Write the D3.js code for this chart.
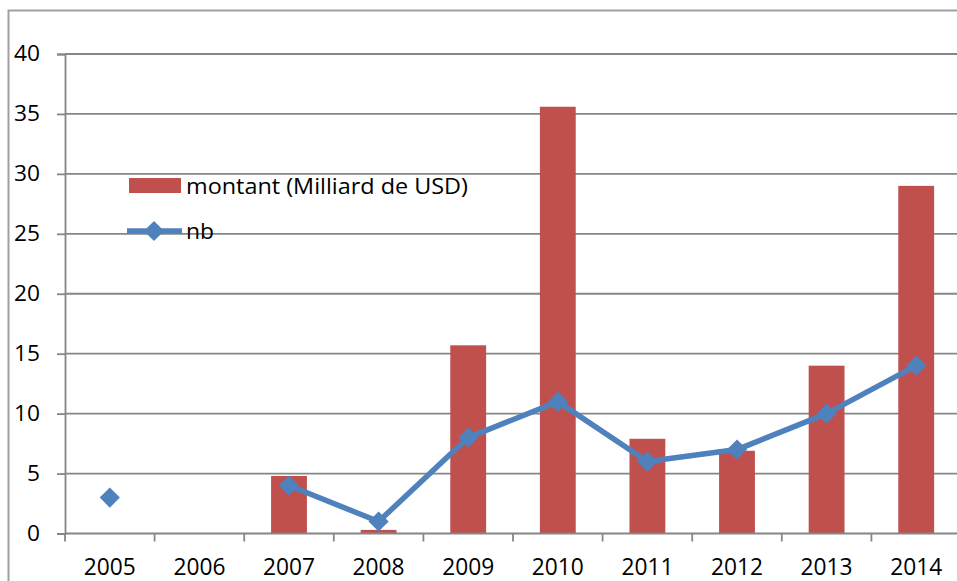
<!DOCTYPE html>
<meta charset="utf-8">
<script src="https://d3js.org/d3.v7.min.js"></script>
<style>
  body { margin: 0; background: #fff; }
  text { font-family: "Open Sans", "Liberation Sans", sans-serif; fill: #000; }
</style>
<div id="chart"></div>
<script>
    // data
    const years = ["2005", "2006", "2007", "2008", "2009", "2010", "2011", "2012", "2013", "2014"];
    const montant = [0, 0, 4.8, 0.3, 15.7, 35.6, 7.9, 6.9, 14, 29];
    const nb = [3, null, 4, 1, 8, 11, 6, 7, 10, 14];
    const yTicks = [0, 5, 10, 15, 20, 25, 30, 35, 40];

    const W = 957, H = 581;
    const svg = d3.select("#chart").append("svg")
        .attr("width", W).attr("height", H);

    // outer frame
    svg.append("rect")
        .attr("x", 8.5).attr("y", 10.5)
        .attr("width", 1000).attr("height", 700)
        .attr("fill", "none").attr("stroke", "#a0a0a0").attr("stroke-width", 2);

    const x = d3.scaleBand().domain(years).range([65, 961]).paddingInner(0.6).paddingOuter(0.3);
    const y = d3.scaleLinear().domain([0, 40]).range([533.5, 54]);

    // gridlines
    svg.append("g").selectAll("line").data(yTicks.filter(d => d > 0)).join("line")
        .attr("x1", 65).attr("x2", 961)
        .attr("y1", d => y(d)).attr("y2", d => y(d))
        .attr("stroke", "#868686").attr("stroke-width", 1.8);

    // bars
    svg.append("g").selectAll("rect").data(years).join("rect")
        .attr("x", d => x(d))
        .attr("width", x.bandwidth())
        .attr("y", (d, i) => y(montant[i]))
        .attr("height", (d, i) => y(0) - y(montant[i]))
        .attr("fill", "#C0504D");

    // y axis
    const yAxis = svg.append("g")
        .attr("transform", "translate(65,0)")
        .call(d3.axisLeft(y).tickValues(yTicks).tickSize(8).tickPadding(17));
    yAxis.select(".domain").attr("stroke", "#868686").attr("stroke-width", 1.8);
    yAxis.selectAll(".tick line").attr("stroke", "#868686").attr("stroke-width", 1.8);
    yAxis.selectAll("text").attr("font-size", 21).attr("fill", "#000")
        .style("font-family", "'Open Sans', sans-serif")
        .attr("textLength", d => String(d).length * 13)
        .attr("lengthAdjust", "spacingAndGlyphs");

    // x axis with ticks at band boundaries
    const xAxis = svg.append("g")
        .attr("transform", `translate(0,${y(0)})`);
    xAxis.append("line").attr("x1", 65).attr("x2", 961)
        .attr("stroke", "#868686").attr("stroke-width", 1.8);
    const step = x.step();
    xAxis.selectAll(".tk").data(d3.range(years.length + 1)).join("line")
        .attr("class", "tk")
        .attr("x1", i => 65 + i * step).attr("x2", i => 65 + i * step)
        .attr("y1", 0).attr("y2", 8)
        .attr("stroke", "#868686").attr("stroke-width", 1.8);
    xAxis.selectAll("text").data(years).join("text")
        .attr("x", d => x(d) + x.bandwidth() / 2)
        .attr("y", 41)
        .attr("text-anchor", "middle")
        .attr("font-size", 23)
        .attr("textLength", 52)
        .attr("lengthAdjust", "spacingAndGlyphs")
        .text(d => d);

    // nb line
    const cx = d => x(d) + x.bandwidth() / 2;
    const pts = years.map((d, i) => ({ year: d, v: nb[i] }));
    const line = d3.line()
        .defined(d => d.v != null)
        .x(d => cx(d.year))
        .y(d => y(d.v));
    svg.append("path")
        .datum(pts)
        .attr("fill", "none")
        .attr("stroke", "#4F81BD")
        .attr("stroke-width", 5.5)
        .attr("stroke-linejoin", "round")
        .attr("d", line);

    const diamond = d3.symbol().type(d3.symbolDiamond2).size(260);
    svg.append("g").selectAll("path").data(pts.filter(d => d.v != null)).join("path")
        .attr("transform", d => `translate(${cx(d.year)},${y(d.v)})`)
        .attr("d", diamond)
        .attr("fill", "#4F81BD");

    // legend
    const lg = svg.append("g");
    lg.append("rect").attr("x", 129).attr("y", 178).attr("width", 52).attr("height", 15)
        .attr("fill", "#C0504D");
    lg.append("text").attr("x", 186).attr("y", 194).attr("font-size", 21)
        .attr("textLength", 282).attr("lengthAdjust", "spacingAndGlyphs")
        .text("montant (Milliard de USD)");
    lg.append("line").attr("x1", 127).attr("x2", 182).attr("y1", 231).attr("y2", 231)
        .attr("stroke", "#4F81BD").attr("stroke-width", 5.5);
    lg.append("path").attr("transform", "translate(154,231)").attr("d", diamond)
        .attr("fill", "#4F81BD");
    lg.append("text").attr("x", 186).attr("y", 239).attr("font-size", 21)
        .attr("textLength", 28).attr("lengthAdjust", "spacingAndGlyphs")
        .text("nb");
</script>
